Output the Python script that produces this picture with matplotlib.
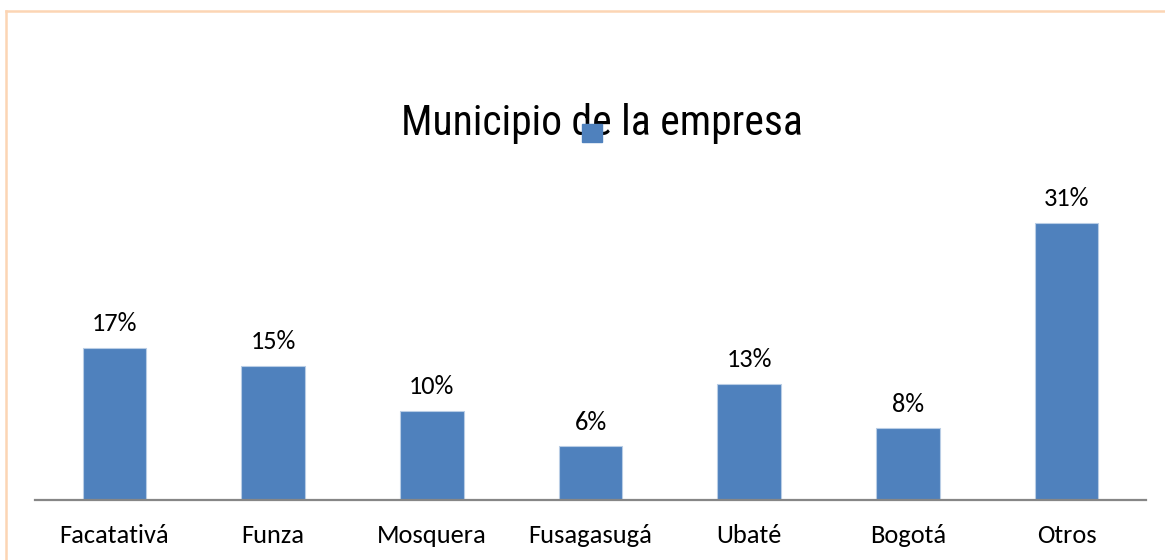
import matplotlib.pyplot as plt
from matplotlib.lines import Line2D
from matplotlib.patches import Patch

municipios = ['Facatativá', 'Funza', 'Mosquera', 'Fusagasugá', 'Ubaté', 'Bogotá', 'Otros']
porcentajes = [17, 15, 10, 6, 13, 8, 31]
etiquetas = ['17%', '15%', '10%', '6%', '13%', '8%', '31%']

W, H = 1165, 560
fig = plt.figure(figsize=(W / 100, H / 100), dpi=100)
ax = fig.add_axes([35 / W, 60 / H, (1146 - 35) / W, 313 / H])

fuente = ['Carlito', 'DejaVu Sans']
azul = '#4F81BD'
x = list(range(len(municipios)))
bars = ax.bar(x, porcentajes, width=0.4, color=azul, edgecolor='#B9CDE5', linewidth=0.8)
ax.bar_label(bars, labels=etiquetas, padding=9, fontsize=19, family=fuente)

ax.set_xlim(-0.5, len(municipios) - 0.5)
ax.set_ylim(0, 35)
ax.set_xticks(x)
ax.set_xticklabels(municipios, fontsize=19, family=fuente)
ax.tick_params(axis='x', length=0, pad=17)
ax.set_yticks([])
for s in ['top', 'right', 'left']:
    ax.spines[s].set_visible(False)
ax.spines['bottom'].set_color('#868686')
ax.spines['bottom'].set_linewidth(1.6)

fig.text(602 / W, 1 - 123 / H, 'Municipio de la empresa', ha='center', va='center',
         fontsize=30, family=['Roboto Condensed', 'DejaVu Sans'])

# legend marker sitting on the title, as in the original
fig.legend(handles=[Patch(color=azul)], labels=[''], loc='center',
           bbox_to_anchor=(592 / W, 1 - 134 / H), frameon=False,
           handlelength=1.0, handleheight=1.0, handletextpad=0, borderpad=0, fontsize=14)

# chart frame (top and left edges visible)
borde = '#FCD5B4'
fig.add_artist(Line2D([5.5 / W, 1], [1 - 10.5 / H, 1 - 10.5 / H], color=borde, lw=1.8,
                      transform=fig.transFigure))
fig.add_artist(Line2D([5.5 / W, 5.5 / W], [0, 1 - 10.5 / H], color=borde, lw=1.8,
                      transform=fig.transFigure))

fig.savefig('out.png', dpi=100)
